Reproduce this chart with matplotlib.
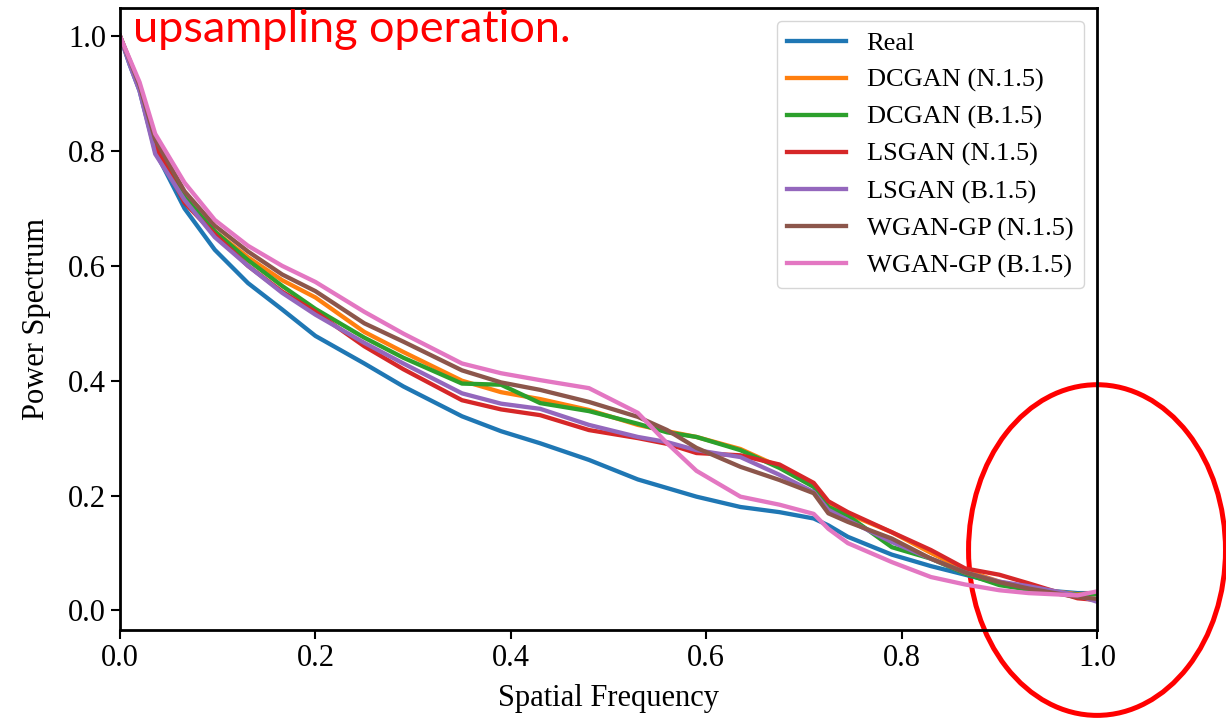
import matplotlib
matplotlib.use('Agg')
import matplotlib.pyplot as plt
from matplotlib.patches import Ellipse

plt.rcParams['font.family'] = 'serif'
plt.rcParams['font.serif'] = ['Liberation Serif', 'DejaVu Serif']

# spatial frequency samples
freq = [0.0, 0.01, 0.02, 0.036, 0.066, 0.097, 0.131, 0.166, 0.2, 0.25, 0.29, 0.35, 0.39, 0.43,
        0.48, 0.53, 0.56, 0.59, 0.635, 0.675, 0.71, 0.725, 0.745, 0.79, 0.83, 0.865,
        0.9, 0.93, 0.98, 1.0]

real = [1.0, 0.95, 0.905, 0.80, 0.70, 0.628, 0.57, 0.524, 0.478, 0.43, 0.39, 0.338, 0.312, 0.291,
        0.262, 0.228, 0.213, 0.198, 0.18, 0.171, 0.16, 0.148, 0.128, 0.097, 0.077, 0.062,
        0.047, 0.037, 0.03, 0.03]
dcgan_n = [1.0, 0.955, 0.91, 0.815, 0.715, 0.66, 0.615, 0.575, 0.545, 0.485, 0.45, 0.40, 0.38, 0.368,
           0.349, 0.323, 0.312, 0.302, 0.281, 0.25, 0.218, 0.185, 0.168, 0.136, 0.10, 0.07,
           0.05, 0.038, 0.028, 0.03]
dcgan_b = [1.0, 0.955, 0.91, 0.81, 0.72, 0.66, 0.61, 0.565, 0.525, 0.475, 0.44, 0.395, 0.393, 0.361,
           0.347, 0.325, 0.31, 0.302, 0.279, 0.248, 0.215, 0.18, 0.165, 0.11, 0.09, 0.064,
           0.044, 0.036, 0.027, 0.028]
lsgan_n = [1.0, 0.955, 0.91, 0.81, 0.71, 0.655, 0.60, 0.555, 0.52, 0.46, 0.42, 0.366, 0.35, 0.34,
           0.314, 0.30, 0.29, 0.274, 0.27, 0.254, 0.222, 0.19, 0.171, 0.136, 0.105, 0.073,
           0.062, 0.047, 0.021, 0.018]
lsgan_b = [1.0, 0.95, 0.905, 0.795, 0.715, 0.65, 0.60, 0.553, 0.515, 0.466, 0.43, 0.378, 0.36, 0.351,
           0.323, 0.302, 0.293, 0.279, 0.267, 0.236, 0.206, 0.175, 0.157, 0.119, 0.09, 0.066,
           0.05, 0.042, 0.026, 0.015]
wgan_n = [1.0, 0.958, 0.915, 0.82, 0.73, 0.67, 0.625, 0.585, 0.556, 0.50, 0.468, 0.418, 0.397, 0.384,
          0.363, 0.337, 0.314, 0.283, 0.25, 0.227, 0.204, 0.169, 0.154, 0.125, 0.09, 0.066,
          0.049, 0.038, 0.023, 0.02]
wgan_b = [1.0, 0.96, 0.92, 0.83, 0.745, 0.68, 0.635, 0.60, 0.572, 0.52, 0.482, 0.43, 0.413, 0.401,
          0.387, 0.344, 0.291, 0.243, 0.198, 0.184, 0.168, 0.142, 0.117, 0.084, 0.058, 0.045,
          0.035, 0.03, 0.026, 0.033]

series = [real, dcgan_n, dcgan_b, lsgan_n, lsgan_b, wgan_n, wgan_b]
labels = ['Real', 'DCGAN (N.1.5)', 'DCGAN (B.1.5)', 'LSGAN (N.1.5)', 'LSGAN (B.1.5)',
          'WGAN-GP (N.1.5)', 'WGAN-GP (B.1.5)']

fig = plt.figure(figsize=(12.26, 7.19), dpi=100)
ax = fig.add_axes([0.0979, 0.1238, 0.7969, 0.8651])

for vals, lab in zip(series, labels):
    ax.plot(freq, vals, lw=3.1, label=lab)

ax.set_xlim(0, 1)
ax.set_xlabel('Spatial Frequency', fontsize=22, labelpad=8)
ax.set_ylabel('Power Spectrum', fontsize=22, labelpad=12)
ax.tick_params(labelsize=22, length=6.5, width=1.5)
for sp in ax.spines.values():
    sp.set_linewidth(2)

ax.legend(loc='upper right', fontsize=19, handlelength=2.2)

# annotation overlay: red ellipse around the high-frequency end
ax.add_patch(Ellipse((1.0, 0.105), 0.263, 0.576, fill=False, ec='red', lw=3.6, clip_on=False))
fig.text(133 / 1226, 1 - 42 / 719, 'upsampling operation.', color='red', fontsize=32.5,
         family='Lato', va='baseline')

plt.savefig('out.png', dpi=100)
